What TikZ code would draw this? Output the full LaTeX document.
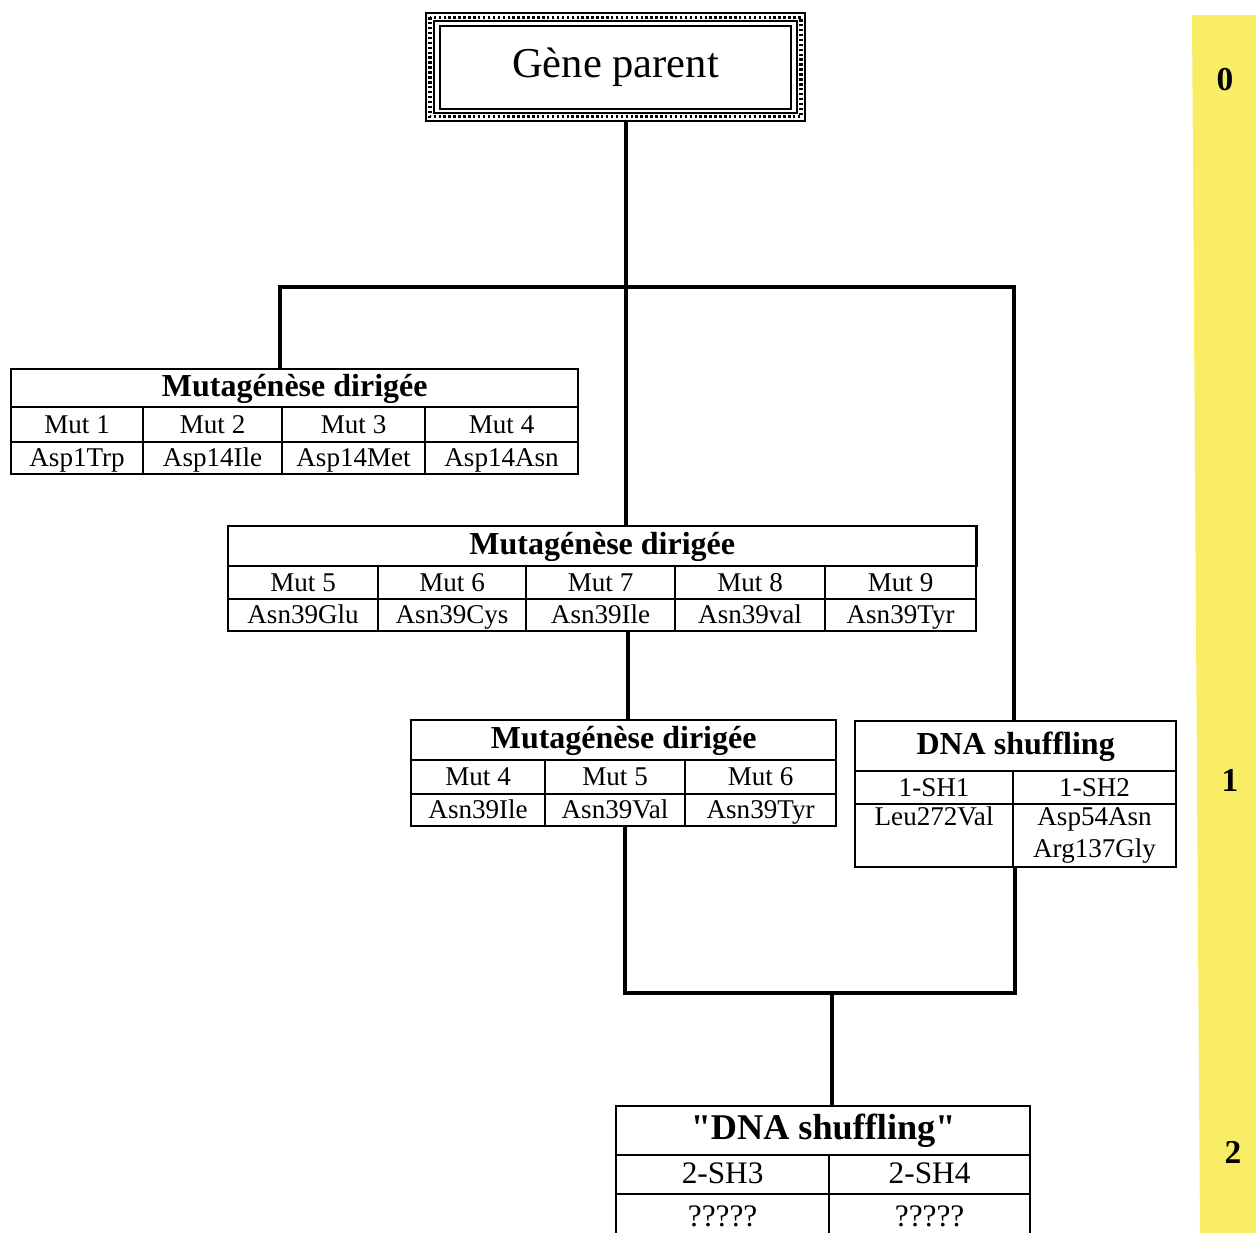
\documentclass[tikz,border=0pt]{standalone}
\usepackage{fontspec}
\setmainfont{Liberation Serif}[Ligatures=TeXOff]
\usepackage{tikz}
\definecolor{marge}{RGB}{249,237,102}
\tikzset{
  cell/.style={draw, line width=0.6pt, anchor=north west, inner sep=0pt, align=center,
               text height=0.7em, text depth=0.2em, font=\fontsize{7.7}{9.2}\selectfont},
  tete/.style={cell, font=\bfseries\fontsize{9.1}{11}\selectfont},
  lien/.style={line width=0.9pt},
}
\begin{document}
\begin{tikzpicture}[x=0.01cm, y=-0.01cm]
  \useasboundingbox (0,0) rectangle (1256,1233);

  % bande des generations
  \fill[marge] (1192,15) -- (1256,15) -- (1256,1233) -- (1200,1233) -- cycle;
  \foreach \x/\y/\n in {1225/80/0, 1230/780/1, 1233/1152/2}
     \node[font=\bfseries\fontsize{9.5}{11}\selectfont] (niv\n) at (\x,\y) {\n};

  % gene parent
  \node[draw, line width=0.5pt, minimum width=37.9mm, minimum height=10.8mm,
        font=\fontsize{12.1}{14}\selectfont] (gene) at (615.5,67) {Gène parent};
  \draw[line width=0.9pt, dash pattern=on 0.7pt off 0.7pt]
     ([shift={(5,5)}]gene.north west) rectangle ([shift={(-5,-5)}]gene.south east);
  \draw[line width=0.4pt]
     ([shift={(9,9)}]gene.north west) rectangle ([shift={(-9,-9)}]gene.south east);
  \draw[line width=0.6pt]
     ([shift={(15,14)}]gene.north west) rectangle ([shift={(-15,-13)}]gene.south east);

  % mutagenese 1
  \node[tete, minimum width=56.7mm, minimum height=3.8mm] (md1) at (10,368) {Mutagénèse dirigée};
  \foreach \x/\w/\m/\s [count=\i] in {10/132/Mut 1/Asp1Trp, 142/139/Mut 2/Asp14Ile,
                                      281/143/Mut 3/Asp14Met, 424/153/Mut 4/Asp14Asn}{
     \node[cell, minimum width=\w*0.1mm, minimum height=3.5mm] (md1m\i) at (\x,406) {\m};
     \node[cell, minimum width=\w*0.1mm, minimum height=3.2mm] (md1s\i) at (\x,441) {\s};
  }

  % mutagenese 2
  \node[tete, minimum width=74.8mm, minimum height=4mm] (md2) at (227,525) {Mutagénèse dirigée};
  \foreach \x/\w/\m/\s [count=\i] in {227/150/Mut 5/Asn39Glu, 377/148/Mut 6/Asn39Cys,
                                      525/149/Mut 7/Asn39Ile, 674/150/Mut 8/Asn39val,
                                      824/151/Mut 9/Asn39Tyr}{
     \node[cell, minimum width=\w*0.1mm, minimum height=3.3mm] (md2m\i) at (\x,565) {\m};
     \node[cell, minimum width=\w*0.1mm, minimum height=3.2mm] (md2s\i) at (\x,598) {\s};
  }

  % mutagenese 3
  \node[tete, minimum width=42.5mm, minimum height=4mm] (md3) at (410,719) {Mutagénèse dirigée};
  \foreach \x/\w/\m/\s [count=\i] in {410/134/Mut 4/Asn39Ile, 544/140/Mut 5/Asn39Val,
                                      684/151/Mut 6/Asn39Tyr}{
     \node[cell, minimum width=\w*0.1mm, minimum height=3.4mm] (md3m\i) at (\x,759) {\m};
     \node[cell, minimum width=\w*0.1mm, minimum height=3.2mm] (md3s\i) at (\x,793) {\s};
  }

  % shuffling 1
  \node[tete, minimum width=32.1mm, minimum height=5mm] (sh1) at (854,720) {DNA shuffling};
  \node[cell, minimum width=15.8mm, minimum height=3.3mm] (sh1m1) at (854,770) {1-SH1};
  \node[cell, minimum width=16.3mm, minimum height=3.3mm] (sh1m2) at (1012,770) {1-SH2};
  \node[cell, text height=, text depth=, minimum width=15.8mm, minimum height=6.3mm]
     (sh1s1) at (854,803) {Leu272Val\\\phantom{Arg137Gly}};
  \node[cell, text height=, text depth=, minimum width=16.3mm, minimum height=6.3mm]
     (sh1s2) at (1012,803) {Asp54Asn\\Arg137Gly};

  % shuffling 2
  \node[tete, minimum width=41.4mm, minimum height=4.9mm,
        font=\bfseries\fontsize{10.3}{12}\selectfont] (sh2) at (615,1105) {"DNA shuffling"};
  \foreach \x/\w/\m [count=\i] in {615/213/2-SH3, 828/201/2-SH4}{
     \node[cell, minimum width=\w*0.1mm, minimum height=3.9mm,
           font=\fontsize{8.9}{10}\selectfont] (sh2m\i) at (\x,1154) {\m};
     \node[cell, minimum width=\w*0.1mm, minimum height=4.7mm,
           font=\fontsize{8.9}{10}\selectfont] (sh2s\i) at (\x,1193) {?????};
  }

  % liens
  \coordinate (j0) at (626,287);
  \coordinate (jg) at (280,287);
  \coordinate (jd) at (1014,287);
  \coordinate (j1) at (628,675);
  \coordinate (jb) at (625,993);
  \coordinate (jb2) at (1015,993);
  \coordinate (jb3) at (832,993);
  \draw[lien] (gene.south -| j0) -- (md2.north -| j0);
  \draw[lien] (md1.north -| jg) -- (jg) -- (jd) -- (sh1.north -| jd);
  \draw[lien] (md2s3.south -| j1) -- (md3.north -| j1);
  \draw[lien] (md3s2.south -| jb) -- (jb) -- (jb2) -- (sh1s2.south -| jb2);
  \draw[lien] (jb3) -- (sh2.north -| jb3);
\end{tikzpicture}
\end{document}
